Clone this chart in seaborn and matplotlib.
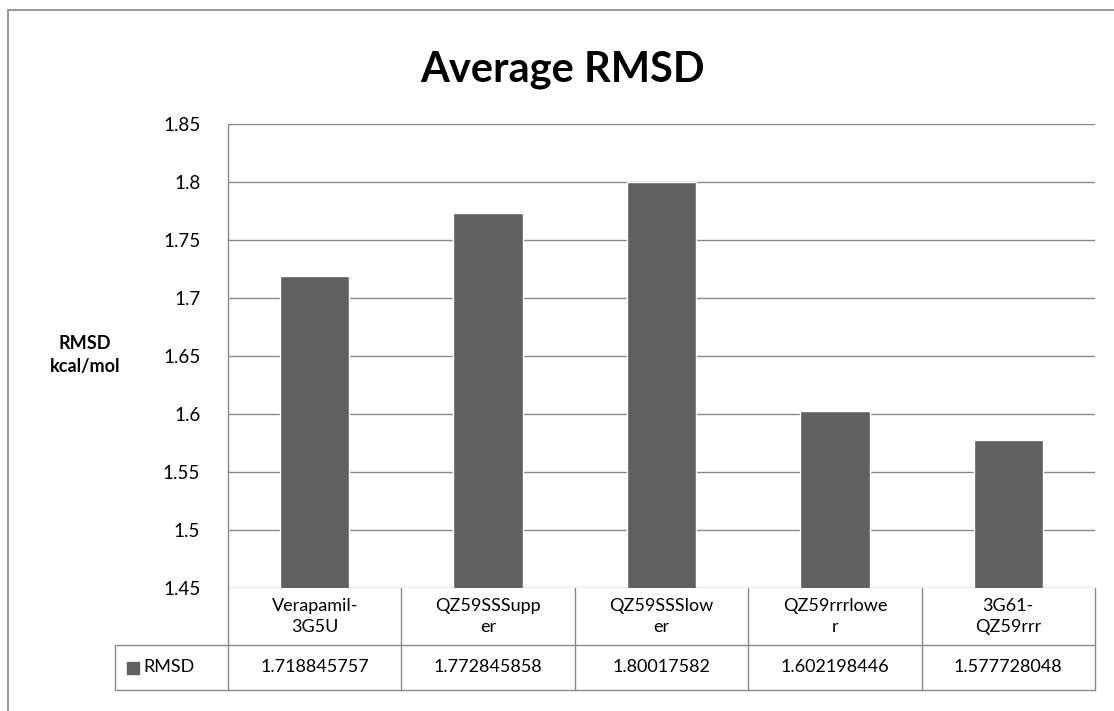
import matplotlib
matplotlib.use("Agg")
import matplotlib.pyplot as plt
import matplotlib.transforms as mtransforms
from matplotlib.lines import Line2D
from matplotlib.patches import Rectangle
import seaborn as sns
import pandas as pd

# chart data
categories = ['Verapamil-3G5U', 'QZ59SSSupper', 'QZ59SSSlower', 'QZ59rrrlower', '3G61-QZ59rrr']
cat_labels = ['Verapamil-\n3G5U', 'QZ59SSSupp\ner', 'QZ59SSSlow\ner', 'QZ59rrrlowe\nr', '3G61-\nQZ59rrr']
rmsd = [1.718845757, 1.772845858, 1.80017582, 1.602198446, 1.577728048]
rmsd_text = ['1.718845757', '1.772845858', '1.80017582', '1.602198446', '1.577728048']
yticks = [1.45, 1.5, 1.55, 1.6, 1.65, 1.7, 1.75, 1.8, 1.85]

df = pd.DataFrame({'category': categories, 'RMSD': rmsd})

sns.set_theme(style="white")
plt.rcParams['font.family'] = ['Lato', 'DejaVu Sans']

bar_color = '#606060'
line_color = '#888888'
text_color = '#000000'

fig = plt.figure(figsize=(11.14, 7.11), dpi=100)
ax = fig.add_axes([228 / 1114, 1 - 588 / 711, (1095 - 228) / 1114, (588 - 124) / 711])

sns.barplot(data=df, x='category', y='RMSD', color=bar_color, width=0.4,
            saturation=1, ax=ax, zorder=3)

ax.set_ylim(1.45, 1.85)
ax.set_xlim(-0.5, len(categories) - 0.5)
ax.set_yticks(yticks)
ax.set_yticklabels([f"{t:g}" for t in yticks], fontsize=13.5, color=text_color)
ax.tick_params(axis='y', length=0, pad=20)
ax.set_xticks([])
ax.set_xlabel('')
ax.set_ylabel('')
for t in yticks:
    ax.axhline(t, color=line_color, lw=1, zorder=1)
for side in ['top', 'right', 'bottom']:
    ax.spines[side].set_visible(False)
ax.spines['left'].set_color(line_color)
ax.spines['left'].set_linewidth(1)

fig.text(85 / 1114, 1 - 355 / 711, 'RMSD\nkcal/mol', ha='center', va='center',
         fontsize=13, fontweight='bold', linespacing=1.45, color=text_color)
fig.text(563 / 1114, 1 - 70 / 711, 'Average RMSD', ha='center', va='center',
         fontsize=30, fontweight='bold', color=text_color)

# data table below the axis
trans = mtransforms.blended_transform_factory(ax.transData, ax.transAxes)
px = 1 / 464
y_top = 0
y_mid = -57 * px
y_bot = -102 * px
x_left = -1.152
n = len(categories)
kw = dict(transform=trans, color=line_color, lw=1, clip_on=False)
for i in range(n + 1):
    ax.add_line(Line2D([i - 0.5, i - 0.5], [y_bot, y_top], **kw))
ax.add_line(Line2D([x_left, x_left], [y_bot, y_mid], **kw))
ax.add_line(Line2D([x_left, n - 0.5], [y_mid, y_mid], **kw))
ax.add_line(Line2D([x_left, n - 0.5], [y_bot, y_bot], **kw))
for i, (lab, val) in enumerate(zip(cat_labels, rmsd_text)):
    ax.text(i, (y_top + y_mid) / 2, lab, transform=trans, ha='center', va='center',
            fontsize=13, linespacing=1.45, color=text_color)
    ax.text(i, (y_mid + y_bot) / 2, val, transform=trans, ha='center', va='center',
            fontsize=13, color=text_color)
ax.add_patch(Rectangle((-1.085, (y_mid + y_bot) / 2 - 6 * px), 0.07, 12 * px,
                       transform=trans, color=bar_color, clip_on=False))
ax.text(-0.99, (y_mid + y_bot) / 2, 'RMSD', transform=trans, ha='left', va='center',
        fontsize=13, color=text_color)

# outer chart border
fig.add_artist(Line2D([8 / 1114, 8 / 1114], [0, 1 - 10 / 711], transform=fig.transFigure,
                      color=line_color, lw=1.2))
fig.add_artist(Line2D([8 / 1114, 1], [1 - 10 / 711, 1 - 10 / 711], transform=fig.transFigure,
                      color=line_color, lw=1.2))

fig.savefig('out.png', dpi=100)
